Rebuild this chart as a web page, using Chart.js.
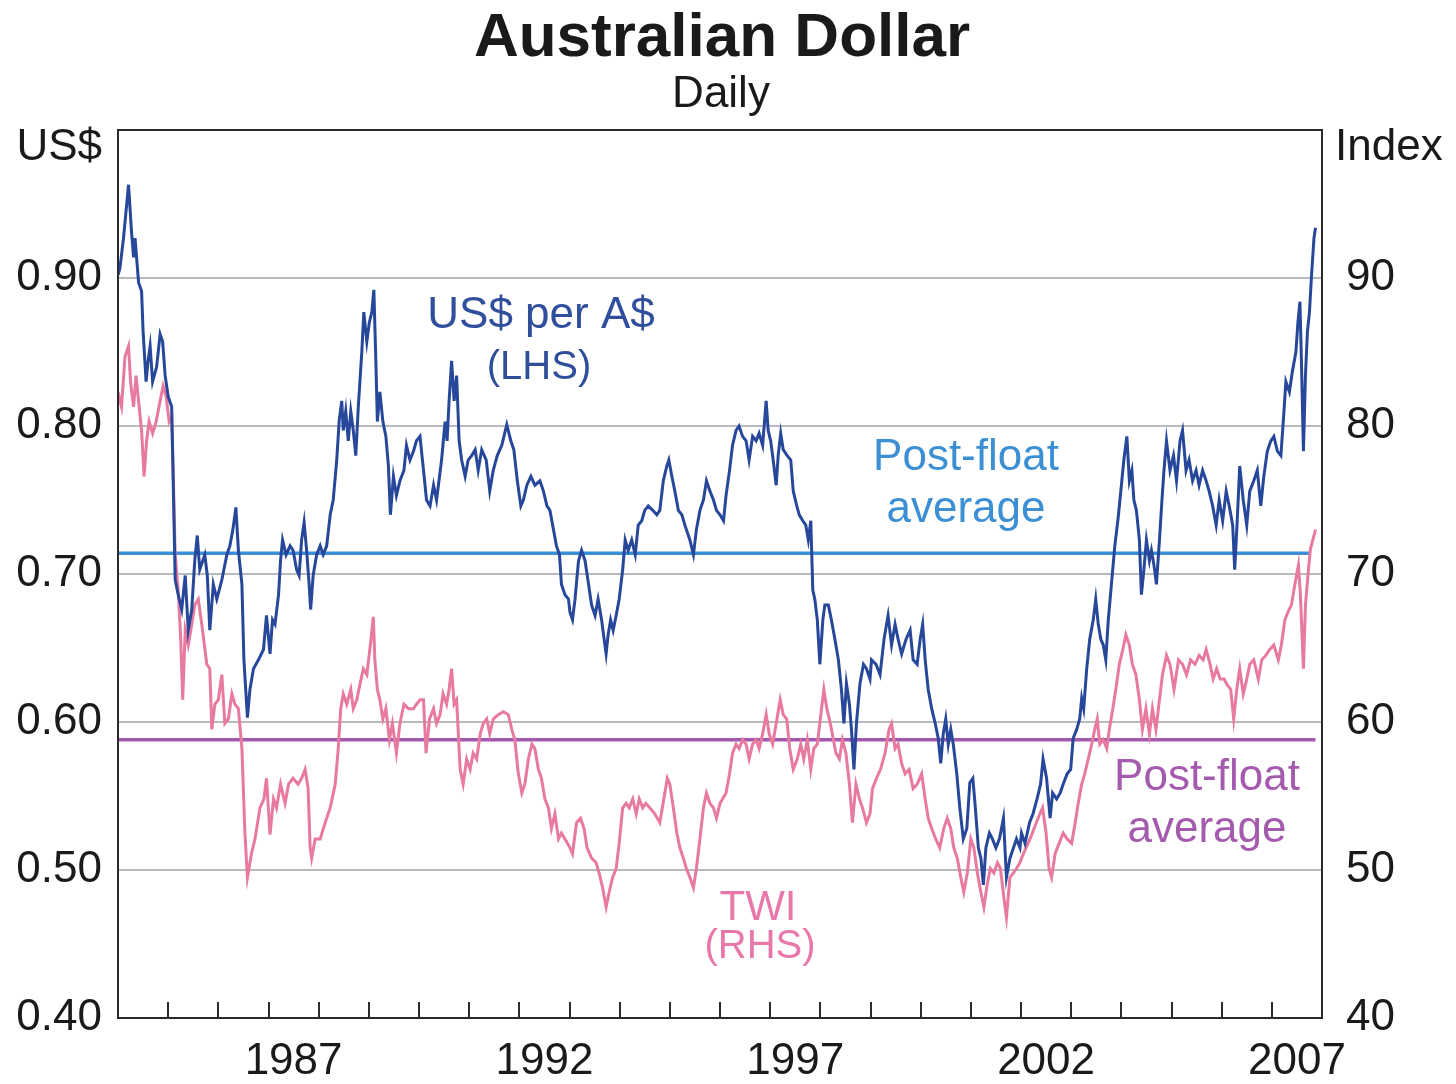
<!DOCTYPE html>
<html>
<head>
<meta charset="utf-8">
<script src="https://cdn.jsdelivr.net/npm/chart.js@4/dist/chart.umd.min.js"></script>
<style>
	html, body { margin: 0; padding: 0; background: #fff; }
</style>
</head>
<body>
<canvas id="myChart" width="1456" height="1084"></canvas>
<script>
// US$ per A$ (LHS), one line per year
const usdDates = [
	1984.00,1984.04,1984.11,1984.21,1984.27,1984.31,1984.34,1984.41,1984.47,1984.50,1984.56,1984.60,1984.64,1984.69,1984.77,1984.84,1984.89,1984.94,
	1985.00,1985.07,1985.14,1985.20,1985.27,1985.34,1985.40,1985.47,1985.53,1985.58,1985.63,1985.73,1985.78,1985.83,1985.90,1985.97,
	1986.07,1986.17,1986.23,1986.29,1986.35,1986.40,1986.47,1986.51,1986.58,1986.63,1986.70,1986.80,1986.90,1986.96,
	1987.03,1987.08,1987.13,1987.20,1987.24,1987.28,1987.35,1987.43,1987.49,1987.56,1987.61,1987.66,1987.71,1987.76,1987.81,1987.84,1987.89,1987.96,
	1988.03,1988.09,1988.16,1988.23,1988.29,1988.36,1988.41,1988.46,1988.49,1988.54,1988.59,1988.64,1988.69,1988.74,1988.79,1988.86,1988.90,1988.96,
	1989.01,1989.06,1989.10,1989.14,1989.17,1989.22,1989.28,1989.34,1989.39,1989.43,1989.49,1989.55,1989.62,1989.70,1989.75,1989.82,1989.89,1989.95,
	1990.02,1990.09,1990.15,1990.22,1990.29,1990.35,1990.45,1990.52,1990.56,1990.60,1990.65,1990.70,1990.75,1990.80,1990.85,1990.92,1990.98,
	1991.05,1991.12,1991.18,1991.25,1991.34,1991.41,1991.48,1991.56,1991.65,1991.75,1991.83,1991.89,1991.96,
	1992.03,1992.08,1992.15,1992.23,1992.31,1992.41,1992.48,1992.55,1992.61,1992.68,1992.74,1992.80,1992.84,1992.91,1992.98,
	1993.01,1993.06,1993.11,1993.18,1993.24,1993.31,1993.38,1993.44,1993.51,1993.57,1993.64,1993.69,1993.73,1993.77,1993.82,1993.87,1993.93,1993.99,
	1994.06,1994.11,1994.17,1994.24,1994.31,1994.37,1994.44,1994.50,1994.57,1994.66,1994.74,1994.80,1994.87,1994.94,1994.98,
	1995.04,1995.10,1995.17,1995.24,1995.30,1995.40,1995.47,1995.53,1995.60,1995.67,1995.73,1995.80,1995.87,1995.93,
	1996.00,1996.07,1996.12,1996.19,1996.25,1996.32,1996.38,1996.45,1996.52,1996.58,1996.65,1996.72,1996.78,1996.85,1996.92,1996.96,
	1997.01,1997.06,1997.12,1997.16,1997.21,1997.26,1997.34,1997.41,1997.46,1997.53,1997.58,1997.65,1997.71,1997.76,1997.81,1997.85,1997.89,1997.94,1997.99,
	1998.05,1998.09,1998.16,1998.22,1998.29,1998.36,1998.42,1998.47,1998.52,1998.58,1998.62,1998.67,1998.72,1998.79,1998.86,1998.92,1998.99,
	1999.02,1999.11,1999.19,1999.27,1999.35,1999.42,1999.49,1999.55,1999.62,1999.71,1999.79,1999.85,1999.93,1999.99,
	2000.04,2000.09,2000.15,2000.22,2000.29,2000.35,2000.40,2000.45,2000.50,2000.55,2000.60,2000.65,2000.72,2000.78,2000.85,2000.92,2000.98,
	2001.04,2001.09,2001.15,2001.20,2001.25,2001.30,2001.37,2001.43,2001.50,2001.57,2001.65,2001.71,2001.78,2001.85,2001.91,2001.98,
	2002.01,2002.08,2002.17,2002.24,2002.32,2002.39,2002.44,2002.51,2002.58,2002.63,2002.71,2002.78,2002.84,2002.92,2002.99,
	2003.04,2003.11,2003.17,2003.21,2003.25,2003.31,2003.37,2003.44,2003.49,2003.54,2003.59,2003.64,2003.69,2003.74,2003.81,2003.87,2003.94,
	2004.01,2004.05,2004.11,2004.16,2004.21,2004.25,2004.30,2004.36,2004.40,2004.45,2004.50,2004.56,2004.60,2004.65,2004.70,2004.76,2004.81,2004.85,2004.90,2004.97,
	2005.04,2005.10,2005.17,2005.22,2005.29,2005.35,2005.42,2005.49,2005.55,2005.62,2005.69,2005.75,2005.82,2005.89,2005.95,
	2006.02,2006.09,2006.15,2006.22,2006.26,2006.31,2006.36,2006.43,2006.50,2006.56,2006.64,2006.71,2006.78,2006.84,2006.91,2006.98,
	2007.04,2007.11,2007.18,2007.23,2007.28,2007.35,2007.41,2007.48,2007.52,2007.56,2007.59,2007.63,2007.67,2007.71,2007.75,2007.79,2007.84,2007.87
];
const usdValues = [
	0.902,0.907,0.927,0.963,0.931,0.914,0.927,0.897,0.891,0.864,0.830,0.844,0.854,0.830,0.840,0.862,0.857,0.834,
	0.820,0.813,0.696,0.686,0.676,0.699,0.662,0.676,0.709,0.726,0.703,0.713,0.699,0.662,0.693,0.683,
	0.696,0.713,0.719,0.730,0.745,0.716,0.693,0.642,0.603,0.622,0.636,0.642,0.649,0.672,
	0.646,0.669,0.666,0.686,0.709,0.723,0.713,0.719,0.716,0.703,0.699,0.723,0.735,0.716,0.693,0.676,0.699,0.713,
	0.719,0.713,0.719,0.740,0.750,0.777,0.804,0.817,0.797,0.810,0.790,0.810,0.797,0.780,0.813,0.850,0.877,0.857,
	0.870,0.877,0.892,0.844,0.803,0.823,0.803,0.793,0.773,0.740,0.766,0.753,0.763,0.770,0.787,0.777,0.783,0.790,
	0.793,0.770,0.750,0.746,0.760,0.750,0.777,0.803,0.790,0.817,0.844,0.817,0.834,0.790,0.777,0.766,0.777,
	0.780,0.784,0.770,0.784,0.777,0.756,0.770,0.780,0.787,0.801,0.790,0.784,0.763,
	0.746,0.750,0.760,0.766,0.760,0.763,0.756,0.746,0.743,0.730,0.719,0.713,0.693,0.686,0.683,
	0.674,0.669,0.683,0.709,0.716,0.709,0.693,0.679,0.672,0.683,0.669,0.656,0.646,0.659,0.669,0.662,0.672,0.683,
	0.703,0.723,0.716,0.723,0.713,0.733,0.736,0.743,0.746,0.743,0.740,0.743,0.763,0.773,0.777,
	0.766,0.756,0.743,0.740,0.733,0.723,0.713,0.730,0.743,0.750,0.763,0.756,0.750,0.743,
	0.740,0.736,0.753,0.770,0.787,0.797,0.800,0.793,0.790,0.777,0.793,0.790,0.795,0.787,0.817,0.797,
	0.790,0.777,0.760,0.780,0.795,0.784,0.780,0.777,0.756,0.746,0.740,0.736,0.733,0.723,0.736,0.689,0.683,0.669,0.639,
	0.669,0.679,0.679,0.669,0.656,0.642,0.622,0.599,0.626,0.612,0.595,0.568,0.599,0.626,0.639,0.636,0.629,
	0.642,0.639,0.632,0.656,0.672,0.652,0.666,0.656,0.646,0.656,0.662,0.642,0.639,0.656,
	0.666,0.642,0.622,0.609,0.599,0.589,0.572,0.592,0.602,0.585,0.595,0.585,0.565,0.542,0.521,0.528,0.559,
	0.562,0.542,0.515,0.508,0.490,0.515,0.525,0.521,0.515,0.521,0.535,0.495,0.508,0.515,0.521,0.515,
	0.525,0.518,0.532,0.538,0.548,0.558,0.575,0.562,0.535,0.552,0.548,0.552,0.558,0.565,0.568,
	0.589,0.595,0.602,0.616,0.609,0.636,0.656,0.669,0.683,0.666,0.656,0.652,0.642,0.669,0.696,0.719,0.739,
	0.763,0.777,0.793,0.763,0.770,0.750,0.743,0.723,0.686,0.703,0.723,0.709,0.716,0.706,0.693,0.723,0.750,0.770,0.790,0.770,
	0.780,0.763,0.790,0.797,0.770,0.777,0.763,0.770,0.760,0.770,0.763,0.756,0.746,0.733,0.750,
	0.736,0.756,0.746,0.733,0.703,0.736,0.773,0.750,0.733,0.756,0.763,0.770,0.746,0.766,0.783,0.790,
	0.793,0.783,0.780,0.804,0.830,0.823,0.837,0.850,0.870,0.884,0.844,0.783,0.834,0.864,0.877,0.901,0.927,0.934
];

// Trade-weighted index (RHS)
const twiDates = [
	1984.00,1984.07,1984.14,1984.21,1984.25,1984.31,1984.36,1984.43,1984.47,1984.52,1984.57,1984.62,1984.69,1984.76,1984.84,1984.90,1984.96,
	1985.02,1985.07,1985.10,1985.14,1985.20,1985.25,1985.29,1985.34,1985.40,1985.47,1985.53,1985.60,1985.67,1985.77,1985.83,1985.87,1985.93,
	1986.00,1986.07,1986.13,1986.20,1986.27,1986.33,1986.40,1986.47,1986.53,1986.58,1986.66,1986.73,1986.83,1986.91,1986.96,
	1987.03,1987.10,1987.16,1987.24,1987.33,1987.40,1987.49,1987.59,1987.66,1987.73,1987.79,1987.83,1987.86,1987.93,
	1988.03,1988.13,1988.23,1988.33,1988.39,1988.44,1988.49,1988.56,1988.64,1988.69,1988.76,1988.82,1988.89,1988.96,
	1989.02,1989.09,1989.12,1989.17,1989.22,1989.28,1989.34,1989.41,1989.47,1989.55,1989.62,1989.70,1989.79,1989.89,1989.95,
	1990.02,1990.09,1990.14,1990.21,1990.29,1990.35,1990.42,1990.48,1990.55,1990.60,1990.65,1990.70,1990.75,1990.82,1990.88,1990.95,
	1991.02,1991.08,1991.15,1991.22,1991.28,1991.35,1991.41,1991.48,1991.58,1991.68,1991.78,1991.85,1991.91,1991.98,
	1992.05,1992.11,1992.18,1992.25,1992.31,1992.38,1992.44,1992.51,1992.58,1992.64,1992.71,1992.78,1992.84,1992.91,
	1993.01,1993.06,1993.14,1993.22,1993.29,1993.35,1993.44,1993.53,1993.59,1993.66,1993.73,1993.79,1993.86,1993.93,1993.99,
	1994.06,1994.13,1994.19,1994.26,1994.33,1994.39,1994.46,1994.52,1994.60,1994.70,1994.80,1994.88,1994.95,
	1995.00,1995.07,1995.14,1995.20,1995.27,1995.33,1995.40,1995.47,1995.53,1995.60,1995.67,1995.73,1995.80,1995.87,1995.93,
	1996.00,1996.12,1996.19,1996.25,1996.32,1996.38,1996.45,1996.52,1996.58,1996.65,1996.72,1996.78,1996.85,1996.92,1996.98,
	1997.05,1997.12,1997.20,1997.26,1997.33,1997.39,1997.46,1997.54,1997.61,1997.67,1997.74,1997.81,1997.87,1997.94,
	1998.01,1998.07,1998.13,1998.18,1998.24,1998.31,1998.38,1998.44,1998.51,1998.58,1998.64,1998.71,1998.78,1998.84,1998.92,1998.99,
	1999.04,1999.12,1999.20,1999.29,1999.37,1999.42,1999.49,1999.55,1999.62,1999.69,1999.77,1999.85,1999.93,
	2000.02,2000.09,2000.15,2000.22,2000.30,2000.38,2000.46,2000.53,2000.60,2000.66,2000.73,2000.80,2000.86,2000.93,
	2001.00,2001.06,2001.13,2001.20,2001.26,2001.33,2001.39,2001.46,2001.53,2001.59,2001.66,2001.71,2001.78,2001.85,2001.91,2001.98,
	2002.01,2002.10,2002.18,2002.26,2002.34,2002.43,2002.50,2002.56,2002.61,2002.68,2002.76,2002.84,2002.92,
	2003.01,2003.08,2003.14,2003.21,2003.27,2003.34,2003.41,2003.47,2003.52,2003.57,2003.64,2003.71,2003.76,2003.83,2003.89,2003.96,
	2004.03,2004.09,2004.16,2004.22,2004.29,2004.36,2004.42,2004.49,2004.56,2004.62,2004.69,2004.76,2004.82,2004.90,2004.97,
	2005.05,2005.14,2005.22,2005.30,2005.38,2005.47,2005.55,2005.63,2005.69,2005.77,2005.83,2005.90,2005.97,
	2006.05,2006.11,2006.18,2006.24,2006.30,2006.36,2006.43,2006.50,2006.56,2006.64,2006.73,2006.80,2006.88,2006.96,
	2007.04,2007.13,2007.19,2007.26,2007.33,2007.39,2007.46,2007.53,2007.57,2007.63,2007.67,2007.73,2007.77,2007.84,2007.87
];
const twiValues = [
	82.3,81.3,84.7,85.4,83.0,81.3,83.4,81.0,79.7,76.6,79.0,80.3,79.5,80.3,81.7,82.7,82.0,
	80.3,80.6,77.0,71.3,68.9,65.6,61.5,66.2,65.2,66.6,67.9,68.3,66.6,63.9,63.6,59.5,61.2,
	61.5,63.2,59.9,60.2,61.9,61.2,60.9,58.2,52.5,49.5,51.1,52.1,54.2,54.8,56.2,
	52.4,54.8,54.2,55.8,54.5,55.8,56.2,55.8,56.2,56.8,55.5,51.5,50.8,52.1,
	52.1,53.2,54.2,55.8,58.2,60.9,61.9,61.2,62.2,60.9,61.5,62.5,63.6,63.2,
	64.9,67.1,64.2,62.2,61.5,60.2,60.9,58.8,59.9,57.9,59.9,61.2,60.9,60.9,61.2,
	61.5,61.5,57.9,60.2,60.9,59.9,60.5,61.9,61.2,62.2,63.6,61.2,61.5,56.8,55.8,57.5,
	56.8,57.9,57.5,59.2,59.9,60.2,59.2,60.2,60.5,60.7,60.5,59.5,58.8,56.5,
	55.2,55.8,57.5,58.5,58.2,56.8,56.2,54.8,54.2,52.8,53.8,52.1,52.5,52.1,
	51.5,51.1,53.2,53.5,52.8,51.5,50.8,50.5,49.8,48.8,47.5,48.5,49.5,50.1,51.8,
	54.2,54.5,54.2,54.8,53.8,54.8,54.2,54.5,54.2,53.8,53.2,54.8,56.2,
	55.8,54.2,52.5,51.5,50.8,50.1,49.5,48.8,50.1,52.1,54.2,55.2,54.5,54.2,53.5,
	54.5,55.2,56.5,57.9,58.5,58.2,58.8,58.5,57.5,58.5,58.8,58.2,59.2,60.5,59.2,
	58.5,59.9,61.5,60.5,60.2,58.2,56.8,57.5,58.5,57.5,58.8,56.8,58.2,58.5,
	60.5,62.2,60.9,60.2,59.2,57.9,57.5,58.8,57.9,55.8,53.2,55.8,54.8,54.2,53.2,53.8,
	55.5,56.2,56.8,57.9,59.5,59.9,58.2,58.5,57.2,56.5,56.8,55.5,55.8,
	56.5,54.8,53.5,52.8,52.1,51.5,52.8,53.5,52.8,51.5,50.8,49.5,48.5,49.8,
	52.1,51.5,49.8,48.5,47.5,49.1,50.1,49.8,50.5,50.1,48.1,46.8,49.5,49.8,50.1,50.5,
	50.8,51.5,52.1,52.8,53.5,54.2,52.5,50.1,49.5,51.1,51.8,52.5,52.1,
	51.8,53.2,54.5,55.8,56.5,57.5,58.5,59.5,60.2,58.5,58.8,58.2,59.5,60.9,62.2,63.9,
	64.9,65.9,65.2,63.9,63.2,61.5,59.5,60.9,59.2,60.9,59.5,61.5,63.2,64.5,63.9,
	62.2,64.2,63.9,63.2,64.2,63.9,64.5,64.2,64.9,63.9,62.9,63.6,62.9,
	62.9,62.5,62.2,60.2,62.2,63.6,61.9,62.9,63.9,64.2,62.9,64.2,64.5,64.9,
	65.2,64.2,65.2,66.9,67.5,67.9,69.3,70.6,68.6,63.6,67.9,70.3,71.7,72.6,73.0
];

// post-float averages
const usdAverage = 0.714;
const twiAverage = 58.8;

// axes
const yearLabels = [1987, 1992, 1997, 2002, 2007];
const usdTicks = [0.4, 0.5, 0.6, 0.7, 0.8, 0.9, 1.0];
const twiTicks = [40, 50, 60, 70, 80, 90, 100];

const FONT = '"Liberation Sans", Arial, sans-serif';
const TEXT = '#1a1a1a';

function toPoints(dates, values) {
	let pts = [];
	const n = Math.min(dates.length, values.length);
	for (let i = 0; i < n; i++) {
		pts.push({ x: dates[i], y: values[i] });
	}
	return pts;
}

const firstDate = usdDates[0];
const lastDate = usdDates[usdDates.length - 1];

// box, year ticks, title and labels
const framePlugin = {
	id: 'frame',
	afterDatasetsDraw(chart) {
		const { ctx, chartArea: a, scales } = chart;
		ctx.save();
		ctx.strokeStyle = '#2b2b2b';
		ctx.lineWidth = 2;
		for (let yr = 1985; yr <= 2007; yr++) {
			const x = Math.round(scales.x.getPixelForValue(yr));
			ctx.beginPath();
			ctx.moveTo(x, a.bottom);
			ctx.lineTo(x, a.bottom - 16);
			ctx.stroke();
		}
		ctx.strokeRect(a.left, a.top, a.right - a.left, a.bottom - a.top);
		ctx.restore();
	},
	afterDraw(chart) {
		const ctx = chart.ctx;
		const text = (str, x, y, size, color, align, weight) => {
			ctx.font = (weight || '') + ' ' + size + 'px ' + FONT;
			ctx.fillStyle = color;
			ctx.textAlign = align || 'center';
			ctx.textBaseline = 'middle';
			ctx.fillText(str, x, y);
		};
		ctx.save();
		text('Australian Dollar', 722, 39, 62, TEXT, 'center', 'bold');
		text('Daily', 721, 95, 44, TEXT);
		text('US$', 102, 148, 44, TEXT, 'right');
		text('Index', 1335, 148, 44, TEXT, 'left');

		text('US$ per A$', 541, 316, 44, '#2f4f9d');
		text('(LHS)', 539, 368, 40, '#2f4f9d');
		text('Post-float', 966, 458, 44, '#3d8fd4');
		text('average', 966, 510, 44, '#3d8fd4');
		text('TWI', 758, 908, 42, '#e878aa');
		text('(RHS)', 760, 947, 40, '#e878aa');
		text('Post-float', 1207, 778, 44, '#a45bae');
		text('average', 1207, 830, 44, '#a45bae');
		ctx.restore();
	}
};

const config = {
	type: 'line',
	data: {
		datasets: [
			{
				label: 'US$ per A$',
				data: toPoints(usdDates, usdValues),
				yAxisID: 'y',
				borderColor: '#27479a',
				borderWidth: 3,
				pointRadius: 0,
				tension: 0
			},
			{
				label: 'TWI',
				data: toPoints(twiDates, twiValues),
				yAxisID: 'y2',
				borderColor: '#e8799f',
				borderWidth: 3,
				pointRadius: 0,
				tension: 0
			},
			{
				label: 'US$ post-float average',
				data: [{ x: firstDate, y: usdAverage }, { x: lastDate - 0.1, y: usdAverage }],
				yAxisID: 'y',
				borderColor: '#3a8fd6',
				borderWidth: 3.5,
				pointRadius: 0
			},
			{
				label: 'TWI post-float average',
				data: [{ x: firstDate, y: twiAverage }, { x: lastDate, y: twiAverage }],
				yAxisID: 'y2',
				borderColor: '#a359ae',
				borderWidth: 3.5,
				pointRadius: 0
			}
		]
	},
	options: {
		responsive: false,
		animation: false,
		devicePixelRatio: 1,
		layout: { padding: { top: 130, left: 0, right: 0, bottom: 0 } },
		plugins: {
			legend: { display: false },
			tooltip: { enabled: false }
		},
		scales: {
			x: {
				type: 'linear',
				position: 'bottom',
				min: 1984,
				max: 2008,
				grid: { display: false },
				border: { display: false },
				afterBuildTicks: scale => {
					scale.ticks = yearLabels.map(y => ({ value: y + 0.5 }));
				},
				afterFit: scale => { scale.height = 66; },
				ticks: {
					autoSkip: false,
					maxRotation: 0,
					padding: 9,
					color: TEXT,
					font: { family: FONT, size: 44 },
					callback: v => String(Math.floor(v))
				}
			},
			y: {
				position: 'left',
				min: 0.4,
				max: 1.0,
				afterBuildTicks: scale => {
					scale.ticks = usdTicks.map(v => ({ value: v }));
				},
				afterFit: scale => { scale.width = 118; },
				grid: {
					drawTicks: false,
					lineWidth: 2,
					color: ctx => {
						const v = ctx.tick ? ctx.tick.value : 0;
						return (v < 0.45 || v > 0.95) ? 'rgba(0,0,0,0)' : '#b7bbbf';
					}
				},
				border: { display: false },
				ticks: {
					padding: 16,
					color: TEXT,
					font: { family: FONT, size: 44 },
					callback: v => (v > 0.95 ? '' : v.toFixed(2))
				}
			},
			y2: {
				position: 'right',
				min: 40,
				max: 100,
				afterBuildTicks: scale => {
					scale.ticks = twiTicks.map(v => ({ value: v }));
				},
				afterFit: scale => { scale.width = 134; },
				grid: { display: false, drawOnChartArea: false },
				border: { display: false },
				ticks: {
					padding: 16,
					color: TEXT,
					font: { family: FONT, size: 44 },
					callback: v => (v > 95 ? '' : String(v))
				}
			}
		}
	},
	plugins: [framePlugin]
};

var myChart = new Chart(document.getElementById('myChart'), config);
</script>
</body>
</html>
